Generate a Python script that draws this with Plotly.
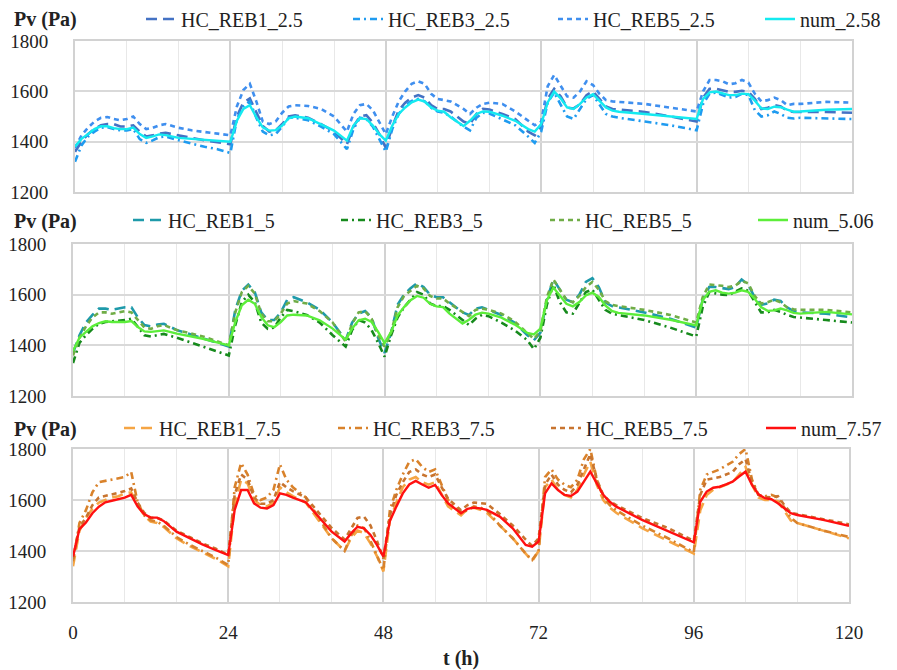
import plotly.graph_objects as go

# ---------------- data ----------------
hours = [0, 1, 2, 3, 4, 5, 6, 7, 8, 9, 10, 11, 12, 13, 14,
         16, 18, 20, 22, 24,
         25, 26, 27, 28, 29, 30, 31, 32, 33, 34,
         36, 38, 40, 42,
         43, 44, 45, 46, 47, 48, 49, 50, 51, 52, 53, 54, 55, 56, 57, 58,
         60, 61, 62, 63, 64, 66, 68, 70, 71, 72,
         73, 74, 75, 76, 77, 78, 79, 80, 81, 82, 83, 84,
         88, 92, 96,
         97, 98, 99, 100, 101, 102, 103, 104, 105, 106, 107, 108, 109, 110, 111, 112,
         116, 120]

x_tick_values = [0, 24, 48, 72, 96, 120]
y_tick_values = [1200, 1400, 1600, 1800]

# Panel 1 (2.5)
reb1_2_5 = [1360, 1400, 1430, 1450, 1465, 1470, 1470, 1460, 1460, 1465, 1440, 1420, 1425, 1432, 1435,
            1425, 1415, 1405, 1398, 1390,
            1500, 1555, 1572, 1520, 1462, 1440, 1445, 1470, 1500, 1505,
            1495, 1470, 1440, 1390,
            1460, 1500, 1505, 1475, 1430, 1375, 1460, 1525, 1555, 1575, 1585, 1575, 1545, 1530, 1530, 1520,
            1480, 1470, 1510, 1530, 1528, 1510, 1490, 1440, 1425, 1460,
            1570, 1610, 1580, 1535, 1532, 1548, 1585, 1600, 1570, 1540, 1530, 1528,
            1518, 1500, 1480,
            1575, 1610, 1610, 1605, 1598, 1598, 1602, 1598, 1570, 1530, 1535, 1545, 1540, 1522, 1518, 1518,
            1518, 1515]
reb3_2_5 = [1320, 1385, 1420, 1440, 1455, 1458, 1450, 1445, 1445, 1450, 1410, 1395, 1405, 1418, 1420,
            1405, 1392, 1380, 1370, 1355,
            1490, 1540, 1560, 1495, 1440, 1425, 1430, 1460, 1495, 1495,
            1485, 1460, 1430, 1370,
            1450, 1495, 1490, 1460, 1410, 1360, 1450, 1510, 1545, 1562, 1570, 1560, 1535, 1520, 1515, 1500,
            1460, 1445, 1495, 1515, 1512, 1490, 1465, 1420, 1395, 1440,
            1555, 1595, 1545, 1500, 1490, 1530, 1570, 1585, 1550, 1510, 1500, 1495,
            1480, 1465, 1445,
            1550, 1590, 1595, 1585, 1575, 1578, 1590, 1585, 1525, 1500, 1505, 1520, 1510, 1495, 1492, 1495,
            1492, 1490]
reb5_2_5 = [1375, 1425, 1455, 1480, 1495, 1498, 1490, 1485, 1490, 1500, 1470, 1450, 1455, 1465, 1470,
            1455, 1445, 1440, 1432, 1425,
            1540, 1605, 1630, 1560, 1480, 1470, 1480, 1515, 1540, 1545,
            1542, 1530, 1500, 1440,
            1510, 1545, 1550, 1525, 1480, 1430, 1500, 1560, 1600, 1630, 1640, 1630, 1590, 1570, 1565, 1560,
            1530, 1510, 1535, 1550, 1555, 1550, 1520, 1485, 1465, 1480,
            1620, 1665, 1620, 1580, 1575, 1600, 1640, 1625, 1590, 1565, 1560, 1558,
            1550, 1535, 1520,
            1600, 1645, 1645, 1640, 1628, 1632, 1645, 1635, 1590, 1560, 1565, 1575, 1565, 1545, 1550, 1550,
            1558, 1555]
num_2_58 = [1380, 1411, 1430, 1450, 1461, 1461, 1454, 1450, 1450, 1456, 1430, 1415, 1421, 1429, 1426,
            1415, 1411, 1408, 1405, 1400,
            1483, 1530, 1545, 1497, 1457, 1444, 1446, 1464, 1493, 1500,
            1493, 1470, 1444, 1404,
            1464, 1493, 1490, 1464, 1430, 1404, 1464, 1510, 1536, 1556, 1567, 1559, 1536, 1523, 1519, 1497,
            1462, 1483, 1510, 1520, 1519, 1503, 1483, 1450, 1440, 1470,
            1556, 1599, 1572, 1536, 1530, 1550, 1576, 1589, 1563, 1536, 1523, 1519,
            1510, 1500, 1490,
            1570, 1596, 1599, 1592, 1585, 1585, 1591, 1589, 1563, 1532, 1530, 1539, 1537, 1527, 1519, 1520,
            1527, 1530]

# Panel 2 (5)
reb1_5 = [1370, 1440, 1490, 1520, 1545, 1545, 1540, 1545, 1550, 1550, 1510, 1480, 1475, 1482, 1485,
          1460, 1445, 1430, 1412, 1395,
          1540, 1615, 1640, 1610, 1530, 1500, 1500, 1530, 1580, 1590,
          1570, 1540, 1490, 1420,
          1490, 1525, 1535, 1510, 1430, 1370, 1450, 1560, 1600, 1625, 1645, 1630, 1600, 1590, 1590, 1570,
          1530, 1520, 1545, 1550, 1540, 1520, 1490, 1440, 1420, 1450,
          1580, 1660, 1620, 1580, 1570, 1600, 1650, 1665, 1630, 1570, 1555, 1550,
          1530, 1505, 1470,
          1580, 1630, 1630, 1625, 1622, 1630, 1660, 1640, 1590, 1560, 1565, 1580, 1575, 1550, 1535, 1530,
          1525, 1510]
reb3_5 = [1330, 1410, 1440, 1465, 1485, 1492, 1495, 1497, 1500, 1505, 1470, 1440, 1435, 1440, 1445,
          1430, 1412, 1395, 1378, 1360,
          1480, 1570, 1600, 1570, 1490, 1465, 1470, 1510, 1540, 1535,
          1520, 1490, 1440, 1395,
          1460, 1500, 1490, 1460, 1410, 1355, 1440, 1510, 1550, 1580, 1610, 1600, 1565, 1555, 1555, 1540,
          1500, 1480, 1505, 1520, 1515, 1490, 1460, 1420, 1385, 1430,
          1560, 1640, 1570, 1530, 1525, 1570, 1610, 1620, 1580, 1540, 1525, 1520,
          1500, 1470, 1435,
          1550, 1610, 1605, 1600, 1598, 1610, 1625, 1615, 1570, 1530, 1530, 1540, 1532, 1520, 1512, 1510,
          1500, 1490]
reb5_5 = [1360, 1430, 1475, 1510, 1530, 1530, 1525, 1530, 1535, 1530, 1500, 1470, 1465, 1475, 1480,
          1460, 1448, 1435, 1418, 1400,
          1530, 1610, 1635, 1605, 1525, 1495, 1495, 1525, 1565, 1575,
          1565, 1535, 1490, 1415,
          1485, 1530, 1535, 1505, 1440, 1395, 1450, 1550, 1595, 1615, 1635, 1625, 1595, 1585, 1585, 1565,
          1530, 1515, 1540, 1545, 1540, 1525, 1495, 1450, 1425, 1455,
          1590, 1660, 1620, 1580, 1570, 1595, 1630, 1650, 1620, 1575, 1560, 1555,
          1540, 1520, 1490,
          1590, 1640, 1638, 1635, 1630, 1635, 1655, 1645, 1595, 1565, 1570, 1580, 1570, 1550, 1542, 1540,
          1540, 1530]
num_5_06 = [1378, 1430, 1453, 1475, 1488, 1495, 1492, 1491, 1492, 1496, 1472, 1455, 1453, 1456, 1459,
            1446, 1436, 1426, 1413, 1400,
            1492, 1558, 1580, 1564, 1512, 1479, 1472, 1492, 1518, 1521,
            1518, 1499, 1466, 1422,
            1466, 1499, 1505, 1492, 1453, 1409, 1453, 1518, 1551, 1578, 1595, 1588, 1564, 1554, 1551, 1525,
            1486, 1501, 1521, 1529, 1525, 1509, 1483, 1449, 1443, 1466,
            1578, 1628, 1597, 1564, 1554, 1571, 1597, 1608, 1591, 1558, 1536, 1528,
            1518, 1501, 1479,
            1578, 1611, 1617, 1608, 1604, 1608, 1617, 1611, 1584, 1551, 1536, 1538, 1545, 1538, 1528, 1525,
            1532, 1522]

# Panel 3 (7.5)
reb1_7_5 = [1340, 1480, 1530, 1565, 1590, 1600, 1610, 1615, 1625, 1630, 1580, 1540, 1515, 1510, 1495,
            1450, 1420, 1395, 1370, 1340,
            1580, 1680, 1665, 1600, 1580, 1575, 1590, 1650, 1630, 1615,
            1590, 1520, 1450, 1400,
            1450, 1480, 1470, 1430, 1380, 1320, 1520, 1590, 1650, 1680, 1690, 1670, 1660, 1670, 1620, 1575,
            1540, 1565, 1570, 1562, 1550, 1500, 1450, 1390, 1360, 1400,
            1650, 1680, 1640, 1620, 1610, 1640, 1700, 1750, 1660, 1600, 1570, 1550,
            1490, 1440, 1390,
            1560, 1620, 1640, 1650, 1660, 1670, 1700, 1730, 1660, 1610, 1600, 1600, 1595, 1560, 1520, 1510,
            1480, 1450]
reb3_7_5 = [1360, 1510, 1560, 1630, 1670, 1675, 1680, 1685, 1690, 1710, 1590, 1540, 1520, 1515, 1500,
            1455, 1425, 1400, 1375, 1345,
            1650, 1745, 1700, 1620, 1600, 1610, 1640, 1740, 1680, 1650,
            1610, 1530, 1450, 1400,
            1460, 1500, 1490, 1440, 1380, 1325, 1560, 1640, 1700, 1750, 1760, 1730, 1710, 1720, 1660, 1600,
            1550, 1560, 1575, 1570, 1560, 1500, 1450, 1390, 1365, 1400,
            1690, 1720, 1680, 1660, 1650, 1680, 1760, 1800, 1680, 1610, 1580, 1560,
            1500, 1450, 1395,
            1640, 1700, 1710, 1720, 1735, 1750, 1780, 1800, 1680, 1620, 1615, 1620, 1610, 1570, 1530, 1510,
            1480, 1455]
reb5_7_5 = [1370, 1495, 1530, 1580, 1610, 1615, 1620, 1628, 1635, 1645, 1590, 1550, 1530, 1530, 1520,
            1480, 1455, 1430, 1410, 1385,
            1620, 1700, 1680, 1610, 1585, 1585, 1600, 1670, 1650, 1635,
            1610, 1550, 1490, 1445,
            1490, 1530, 1535, 1500, 1440, 1370, 1540, 1620, 1670, 1710, 1720, 1700, 1690, 1700, 1650, 1605,
            1560, 1580, 1590, 1588, 1585, 1545, 1500, 1445, 1420, 1450,
            1660, 1700, 1660, 1640, 1630, 1660, 1720, 1780, 1680, 1620, 1595, 1580,
            1530, 1490, 1440,
            1620, 1680, 1685, 1690, 1700, 1710, 1740, 1760, 1670, 1620, 1612, 1610, 1615, 1580, 1550, 1545,
            1525, 1505]
num_7_57 = [1378, 1486, 1512, 1548, 1574, 1591, 1597, 1604, 1609, 1620, 1574, 1545, 1531, 1531, 1518,
            1476, 1450, 1426, 1404, 1384,
            1561, 1639, 1639, 1587, 1570, 1567, 1580, 1626, 1620, 1609,
            1591, 1535, 1476, 1437,
            1469, 1495, 1489, 1463, 1424, 1378, 1518, 1574, 1626, 1661, 1675, 1661, 1648, 1659, 1620, 1587,
            1548, 1565, 1570, 1567, 1561, 1535, 1489, 1424, 1417, 1437,
            1626, 1665, 1639, 1620, 1616, 1633, 1672, 1711, 1665, 1620, 1593, 1574,
            1522, 1478, 1434,
            1593, 1633, 1648, 1652, 1661, 1672, 1692, 1711, 1659, 1622, 1607, 1603, 1587, 1567, 1548, 1541,
            1522, 1499]

# ---------------- figure ----------------
W, H = 897, 670
FONT = "Liberation Serif, Times New Roman, serif"
FONT_ANN = "Times New Roman, Liberation Serif, serif"
TXT = "#222222"
LONG = "11px,6px"
DASHDOT = "7px,4px,2px,4px"
SHORT = "5px,4px"

panels = [
    dict(series=[("HC_REB1_2.5", reb1_2_5, "#4472C4", LONG),
                 ("HC_REB3_2.5", reb3_2_5, "#1F9BF0", DASHDOT),
                 ("HC_REB5_2.5", reb5_2_5, "#3F8FEF", SHORT),
                 ("num_2.58", num_2_58, "#14EAF0", "solid")],
         top=41, bottom=192, left=75, right=852, legend_y=19,
         text_x=[183, 390, 595, 802]),
    dict(series=[("HC_REB1_5", reb1_5, "#1E9AAA", LONG),
                 ("HC_REB3_5", reb3_5, "#168A1C", DASHDOT),
                 ("HC_REB5_5", reb5_5, "#70AD47", SHORT),
                 ("num_5.06", num_5_06, "#5CEE3A", "solid")],
         top=244, bottom=396, left=73, right=852, legend_y=220,
         text_x=[170, 378, 587, 795]),
    dict(series=[("HC_REB1_7.5", reb1_7_5, "#F5A544", LONG),
                 ("HC_REB3_7.5", reb3_7_5, "#D9822B", DASHDOT),
                 ("HC_REB5_7.5", reb5_7_5, "#C8742F", SHORT),
                 ("num_7.57", num_7_57, "#FF1010", "solid")],
         top=449, bottom=602, left=73, right=849, legend_y=428,
         text_x=[161, 375, 588, 803]),
]

fig = go.Figure()
layout = dict(width=W, height=H, margin=dict(l=0, r=0, t=0, b=0, autoexpand=False),
              paper_bgcolor="white", plot_bgcolor="white", showlegend=True,
              font=dict(family=FONT, size=20, color=TXT),
              annotations=[])

n_leg = 0
for i, p in enumerate(panels):
    k = "" if i == 0 else str(i + 1)
    for j, (name, vals, color, dash) in enumerate(p["series"]):
        n_leg += 1
        leg = "legend" if n_leg == 1 else "legend" + str(n_leg)
        fig.add_trace(go.Scatter(
            x=hours, y=vals, name=name, mode="lines", showlegend=True,
            line=dict(color=color, width=2.6 if dash != "solid" else 2.4, dash=dash),
            xaxis="x" + k, yaxis="y" + k, legend=leg))
        layout[leg] = dict(
            orientation="h", x=(p["text_x"][j] - 42) / W, xanchor="left",
            y=1 - p["legend_y"] / H, yanchor="middle", visible=True,
            font=dict(family=FONT, size=20, color=TXT),
            bgcolor="rgba(0,0,0,0)", borderwidth=0)
    xd = [p["left"] / W, p["right"] / W]
    yd = [1 - p["bottom"] / H, 1 - p["top"] / H]
    layout["xaxis" + k] = dict(
        domain=xd, anchor="y" + k, range=[0, 120], automargin=False,
        tickmode="array", tickvals=x_tick_values,
        ticktext=[str(v) for v in x_tick_values],
        showticklabels=(i == 2), ticks="", ticklabelstandoff=12,
        tickfont=dict(family=FONT, size=19, color=TXT),
        showgrid=True, gridcolor="#D2D2D2", gridwidth=2,
        minor=dict(tickmode="linear", tick0=0, dtick=8, showgrid=True,
                   gridcolor="#E8E8E8", gridwidth=1.3),
        showline=True, mirror=True, linecolor="#D2D2D2", linewidth=2,
        zeroline=False, fixedrange=True)
    layout["yaxis" + k] = dict(
        domain=yd, anchor="x" + k, range=[1200, 1800], automargin=False,
        tickmode="array", tickvals=y_tick_values,
        ticks="", ticklabelstandoff=21,
        tickfont=dict(family=FONT, size=19, color=TXT),
        showgrid=True, gridcolor="#D9D9D9", gridwidth=2,
        showline=True, mirror=True, linecolor="#D2D2D2", linewidth=2,
        zeroline=False, fixedrange=True)
    layout["annotations"].append(dict(
        text="<b>Pv (Pa)</b>", x=12 / W, y=1 - (p["legend_y"] + 1) / H,
        xref="paper", yref="paper", xanchor="left", yanchor="middle",
        showarrow=False, font=dict(family=FONT_ANN, size=20, color=TXT)))

layout["annotations"].append(dict(
    text="<b>t (h)</b>", x=461 / W, y=1 - 658 / H, xref="paper", yref="paper",
    xanchor="center", yanchor="middle", showarrow=False,
    font=dict(family=FONT_ANN, size=20, color=TXT)))

fig.update_layout(**layout)
fig.write_html("out.html",
               config={"displayModeBar": False},
               post_script="document.body.style.margin='0';"
                           "document.body.style.padding='0';")
